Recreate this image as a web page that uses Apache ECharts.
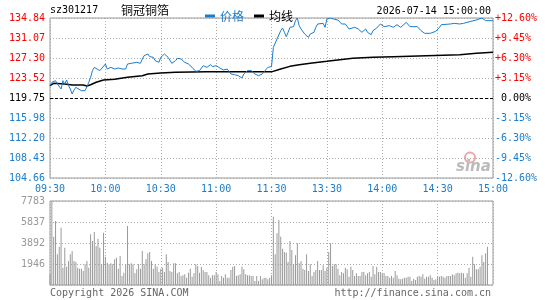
<!DOCTYPE html>
<html>
<head>
<meta charset="utf-8">
<script src="https://cdn.jsdelivr.net/npm/echarts@6/dist/echarts.min.js"></script>
<style>
  html, body { margin: 0; padding: 0; background: #fff; }
  #chart { width: 545px; height: 300px; }
</style>
</head>
<body>
<div id="chart"></div>
<script>
// tick labels
const timeTicks = ["09:30", "10:00", "10:30", "11:00", "11:30", "13:30", "14:00", "14:30", "15:00"];
const priceTicks = ["104.66", "108.43", "112.20", "115.98", "119.75", "123.52", "127.30", "131.07", "134.84"];
const pctTicks = ["-12.60%", "-9.45%", "-6.30%", "-3.15%", " 0.00%", "+3.15%", "+6.30%", "+9.45%", "+12.60%"];
const volTicks = ["", "1946", "3892", "5837", "7783"];
const prevClose = 119.75;

// price line, minute index (0 = 09:30, 120 = 11:30/13:00, 240 = 15:00)
const priceMinute = [0, 1, 2, 3, 4, 5, 6, 7, 8, 9, 10, 11, 12, 13, 14, 15, 17, 18, 19, 20,
  21, 22, 23, 24, 25, 27, 30, 31, 33, 35, 37, 39, 41, 42, 44, 47, 49, 50, 51, 53,
  54, 56, 57, 59, 60, 61, 62, 63, 64, 66, 68, 69, 71, 73, 75, 77, 79, 81, 83, 85,
  87, 88, 90, 92, 94, 96, 98, 100, 102, 104, 105, 107, 109, 111, 113, 115, 116, 118, 120,
  121, 122, 123, 125, 126, 127, 128, 129, 130, 131, 132, 133, 134, 135, 136, 138, 140, 141, 143, 144,
  145, 146, 148, 149, 150, 152, 154, 156, 158, 160, 162, 163, 165, 167, 169, 171, 172, 174, 175, 177,
  179, 181, 182, 184, 186, 188, 190, 191, 193, 195, 199, 201, 203, 206, 209, 211, 212, 217, 219, 222,
  224, 228, 229, 231, 234, 236, 240];
const priceValue = [122.08, 122.71, 122.39, 123.02, 122.39, 122.71, 121.45, 123.02, 122.39, 123.15,
  122.08, 121.45, 120.50, 121.26, 121.76, 121.45, 121.13, 121.45, 121.13, 121.89,
  122.71, 123.65, 124.91, 125.53, 125.85, 124.91, 126.16, 125.22, 125.53, 125.22,
  125.41, 125.22, 125.22, 126.16, 126.29, 126.48, 126.29, 127.11, 127.74, 128.05,
  127.55, 127.42, 126.79, 126.48, 127.42, 127.74, 128.05, 128.18, 127.42, 126.29,
  126.79, 127.23, 127.11, 126.48, 126.16, 125.53, 124.78, 124.91, 125.85, 125.53,
  126.04, 125.66, 125.85, 125.41, 125.03, 125.22, 124.28, 124.15, 123.96, 123.52,
  124.28, 124.91, 124.91, 124.28, 123.96, 124.28, 124.59, 125.53, 125.66,
  129.31, 129.31, 130.88, 132.45, 132.95, 132.14, 131.32, 132.14, 133.08, 133.39,
  133.21, 134.34, 134.84, 133.39, 132.77, 131.82, 131.19, 131.82, 132.14, 133.08,
  133.71, 133.39, 133.83, 133.08, 134.65, 134.84, 134.60, 134.46, 133.71, 133.71,
  132.77, 132.45, 133.08, 132.77, 132.14, 132.77, 132.14, 131.70, 132.45, 132.95,
  133.71, 133.21, 133.21, 133.39, 133.08, 133.58, 133.08, 133.39, 134.02, 133.21,
  133.21, 132.45, 131.95, 131.95, 132.33, 133.08, 133.58, 133.71, 133.83, 133.71,
  133.83, 134.21, 134.46, 134.46, 134.84, 134.34, 134.34];

// average price line
const avgMinute = [0, 2, 8, 12, 18, 20, 22, 25, 29, 35, 42, 50, 53, 60, 68, 85, 120,
  125, 130, 135, 141, 150, 157, 164, 175, 186, 204, 222, 231, 240];
const avgValue = [122.08, 122.52, 122.39, 122.20, 122.20, 122.01, 122.26, 122.71, 123.15, 123.27,
  123.65, 123.96, 124.28, 124.47, 124.59, 124.72, 124.68,
  125.22, 125.72, 126.04, 126.29, 126.67, 126.98, 127.23, 127.42, 127.55, 127.74, 127.92, 128.18, 128.36];

// volume per minute (lots)
const volMorning = [991, 7783, 4478, 5930, 2841, 3551, 5312, 1606, 3459, 1700,
  2224, 2841, 3150, 2224, 2131, 1606, 1513, 1513, 1297, 1915,
  2224, 1606, 4694, 4077, 4910, 3613, 4293, 3459, 1915, 4849,
  2625, 2069, 1915, 2008, 1915, 2378, 2532, 1513, 2687, 834,
  1143, 1915, 5466, 1915, 2008, 1915, 1081, 1452, 1915, 1513,
  3150, 1915, 2378, 2934, 3057, 2224, 1513, 1915, 1700, 1204,
  1513, 1606, 1204, 2841, 2131, 1297, 1204, 2008, 2008, 1081,
  1204, 834, 896, 991, 679, 1143, 1513, 772, 1081, 1915,
  1760, 1143, 1700, 1390, 1204, 1204, 896, 679, 896, 896,
  1204, 991, 371, 834, 679, 991, 679, 679, 1390, 1700,
  1760, 834, 896, 991, 1700, 1452, 991, 896, 896, 834,
  834, 371, 834, 371, 834, 525, 679, 679, 525, 679, 896];
const volAfternoon = [6331, 2841, 4787, 6022, 4478, 3366, 3057, 2996, 2131, 4077,
  3243, 1915, 2749, 3861, 2008, 2224, 1513, 1390, 2841, 1297,
  1915, 834, 1204, 1390, 2224, 1390, 1390, 1822, 1297, 1606,
  3057, 3861, 1760, 1915, 1915, 1513, 896, 1204, 1081, 1606,
  1452, 772, 1700, 1390, 834, 1081, 834, 834, 1204, 1204, 896,
  1081, 1204, 772, 1760, 991, 1700, 1204, 1204, 1081, 1081, 834,
  834, 679, 834, 679, 1297, 896, 587, 525, 587, 679, 679,
  772, 772, 371, 587, 463, 772, 834, 772, 991, 587, 772,
  772, 896, 679, 463, 525, 772, 772, 834, 772, 679, 834,
  834, 834, 991, 896, 1081, 1143, 1081, 1143, 1081, 679,
  1081, 1606, 772, 2625, 1915, 1452, 1452, 1700, 2749, 2131,
  2934, 3551, 0, 0, 0];

const pMin = 104.66, pMax = 134.84, pInt = (pMax - pMin) / 8;
const vMax = 7783, vInt = vMax / 4;
const mono = "DejaVu Sans Mono";
const blue = "#1a7ccc";
const red = "#ff0000";

const priceData = priceMinute.map((m, i) => [m, priceValue[i]]);
const avgData = avgMinute.map((m, i) => [m, avgValue[i]]);
const volData = volMorning.concat(volAfternoon).map((v, i) => [i, v]);

function tickIndex(v, min, step) {
  return Math.round((v - min) / step);
}
function colored(list) {
  return function (v) {
    const i = tickIndex(v, pMin, pInt);
    const k = i > 4 ? "u" : i < 4 ? "d" : "z";
    return "{" + k + "|" + list[i] + "}";
  };
}
const rich = {
  u: { color: red, fontFamily: mono, fontSize: 10 },
  z: { color: "#000", fontFamily: mono, fontSize: 10 },
  d: { color: blue, fontFamily: mono, fontSize: 10 },
};
const dotted = { lineStyle: { color: "#aaa", type: [1, 2], width: 1 } };

const chart = echarts.init(document.getElementById("chart"));
chart.setOption({
  animation: false,
  grid: [
    { left: 50, top: 18, width: 443, height: 160, show: true, borderColor: "#999", borderWidth: 1 },
    { left: 50, top: 201, width: 443, height: 84, show: true, borderColor: "#999", borderWidth: 1 },
  ],
  legend: {
    left: 200,
    top: 5,
    itemWidth: 10,
    itemHeight: 3,
    itemGap: 10,
    icon: "rect",
    textStyle: { fontFamily: "Noto Sans CJK SC", fontSize: 12 },
    data: [
      { name: "价格", textStyle: { color: blue } },
      { name: "均线", textStyle: { color: "#000" } },
    ],
  },
  xAxis: [
    {
      type: "value", gridIndex: 0, min: 0, max: 240, interval: 30,
      axisLine: { show: false }, axisTick: { show: false },
      splitLine: dotted,
      axisLabel: {
        margin: 6, color: blue, fontFamily: mono, fontSize: 10,
        showMinLabel: true, showMaxLabel: true,
        formatter: (v) => timeTicks[Math.round(v / 30)],
      },
    },
    {
      type: "value", gridIndex: 1, min: 0, max: 240, interval: 30,
      axisLine: { show: false }, axisTick: { show: false },
      splitLine: dotted, axisLabel: { show: false },
    },
  ],
  yAxis: [
    {
      type: "value", gridIndex: 0, min: pMin, max: pMax, interval: pInt,
      axisLine: { show: false }, axisTick: { show: false },
      splitLine: dotted,
      axisLabel: { margin: 5, formatter: colored(priceTicks), rich: rich, showMinLabel: true, showMaxLabel: true },
    },
    {
      type: "value", gridIndex: 0, position: "right", min: pMin, max: pMax, interval: pInt,
      axisLine: { show: false }, axisTick: { show: false }, splitLine: { show: false },
      axisLabel: { margin: 2, align: "left", formatter: colored(pctTicks), rich: rich, showMinLabel: true, showMaxLabel: true },
    },
    {
      type: "value", gridIndex: 1, min: 0, max: vMax, interval: vInt,
      axisLine: { show: false }, axisTick: { show: false },
      splitLine: dotted,
      axisLabel: {
        margin: 5, color: "#999", fontFamily: mono, fontSize: 10,
        showMinLabel: true, showMaxLabel: true,
        formatter: (v) => volTicks[tickIndex(v, 0, vInt)],
      },
    },
  ],
  series: [
    {
      name: "价格", type: "line", xAxisIndex: 0, yAxisIndex: 0,
      data: priceData, showSymbol: false, color: blue,
      lineStyle: { width: 1, color: blue },
      markLine: {
        silent: true, symbol: "none", label: { show: false },
        lineStyle: { color: "#000", type: [3, 2], width: 1 },
        data: [{ yAxis: prevClose }],
      },
      z: 3,
    },
    {
      name: "均线", type: "line", xAxisIndex: 0, yAxisIndex: 0,
      data: avgData, showSymbol: false, color: "#000",
      lineStyle: { width: 1.5, color: "#000" },
      z: 2,
    },
    {
      name: "成交量", type: "bar", xAxisIndex: 1, yAxisIndex: 2,
      data: volData, barWidth: 1, itemStyle: { color: "#999" },
    },
  ],
  graphic: [
    { type: "text", left: 50, top: 5, style: { text: "sz301217", font: "10px " + mono, fill: "#000" } },
    { type: "text", left: 121, top: 4, style: { text: "铜冠铜箔", font: "12px 'Noto Sans CJK SC'", fill: "#000" } },
    { type: "text", right: 54, top: 6, style: { text: "2026-07-14 15:00:00", font: "10px " + mono, fill: "#000" } },
    { type: "text", left: 50, top: 288, style: { text: "Copyright 2026 SINA.COM", font: "10px " + mono, fill: "#666" } },
    { type: "text", right: 54, top: 288, style: { text: "http://finance.sina.com.cn", font: "10px " + mono, fill: "#666" } },
    {
      type: "group", left: 456, top: 150, silent: true,
      children: [
        { type: "circle", shape: { cx: 14, cy: 6, r: 5 }, style: { fill: "none", stroke: "#f3a5a5", lineWidth: 2 } },
        { type: "text", x: 0, y: 8, style: { text: "sina", font: "italic bold 15px 'DejaVu Sans'", fill: "#bbb" } },
      ],
    },
  ],
});
</script>
</body>
</html>
